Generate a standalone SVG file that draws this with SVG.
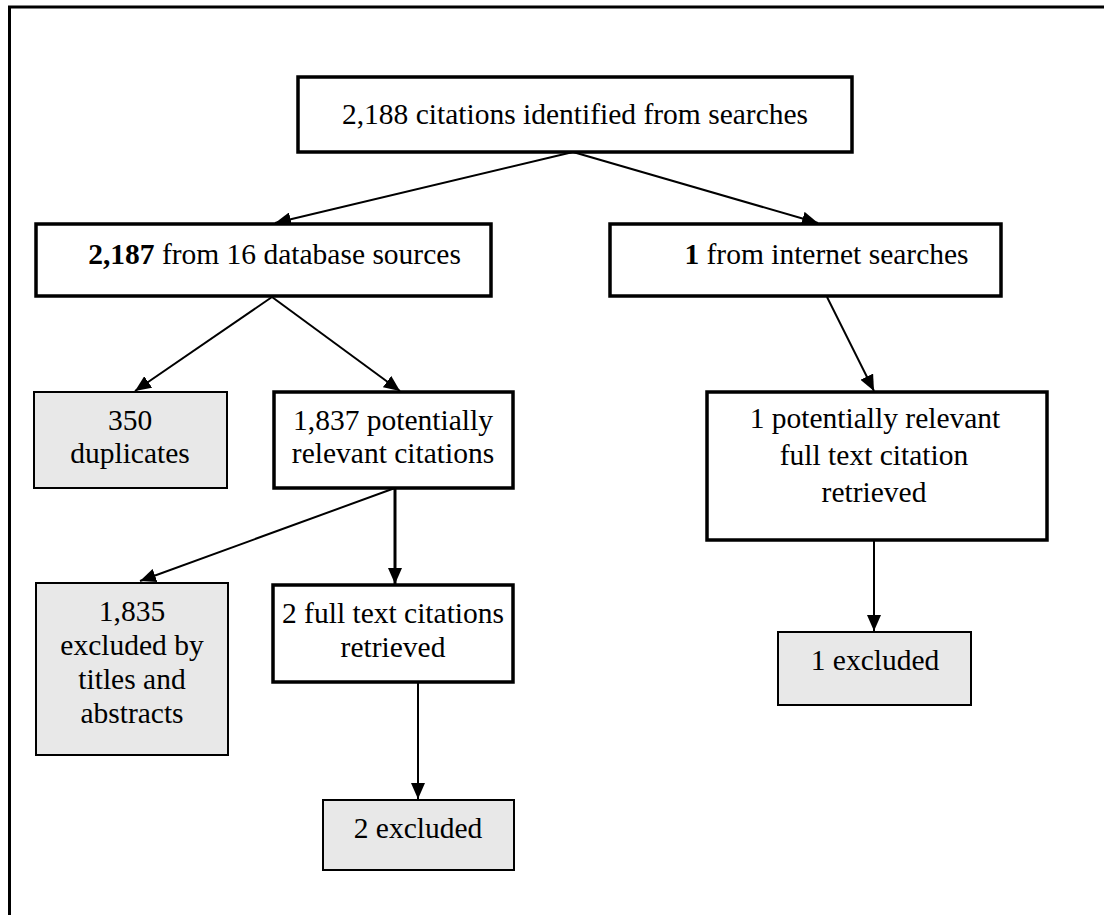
<svg xmlns="http://www.w3.org/2000/svg" width="1104" height="915" viewBox="0 0 1104 915">
<style>
  text { font-family: "Liberation Serif", "Times New Roman", Tinos, "Nimbus Roman", "DejaVu Serif", serif; font-size: 29.5px; fill: #000; text-anchor: middle; }
  .box { fill: #fff; stroke: #000; stroke-width: 3.5; }
  .gray { fill: #e8e8e8; stroke: #000; stroke-width: 2; }
  .conn { stroke: #000; stroke-width: 2; fill: none; marker-end: url(#arrow); }
  .thick { stroke-width: 3; }
  .b { font-weight: bold; }
</style>
<defs>
  <marker id="arrow" markerUnits="userSpaceOnUse" markerWidth="16" markerHeight="14" viewBox="0 0 16 14" refX="16" refY="7" orient="auto">
    <path d="M0,0 L16,7 L0,14 z" fill="#000"/>
  </marker>
</defs>
<rect width="1104" height="915" fill="#fff"/>
<path d="M9.5,915 V7 H1104" fill="none" stroke="#000" stroke-width="3"/>

<g id="connectors">
  <line class="conn" x1="573" y1="152" x2="275" y2="223"/>
  <line class="conn" x1="573" y1="152" x2="818" y2="223"/>
  <line class="conn" x1="272" y1="297" x2="135" y2="391"/>
  <line class="conn" x1="272" y1="297" x2="400" y2="391"/>
  <line class="conn" x1="827" y1="297" x2="874" y2="391"/>
  <line class="conn" x1="395" y1="488" x2="140" y2="581"/>
  <line class="conn thick" x1="395" y1="488" x2="395" y2="584"/>
  <line class="conn" x1="874" y1="540" x2="874" y2="631"/>
  <line class="conn" x1="418" y1="682" x2="418" y2="799"/>
</g>

<g id="n-top">
  <rect class="box" x="298" y="77" width="554" height="75"/>
  <text x="575" y="124">2,188 citations identified from searches</text>
</g>
<g id="n-db">
  <rect class="box" x="36" y="224" width="455" height="72"/>
  <text x="274.5" y="264"><tspan class="b">2,187</tspan> from 16 database sources</text>
</g>
<g id="n-net">
  <rect class="box" x="610" y="224" width="391" height="72"/>
  <text x="826.5" y="264"><tspan class="b">1</tspan> from internet searches</text>
</g>
<g id="n-dup">
  <rect class="gray" x="34" y="392" width="193" height="96"/>
  <text x="130" y="430">350</text>
  <text x="130" y="463">duplicates</text>
</g>
<g id="n-1837">
  <rect class="box" x="274" y="392" width="239" height="96"/>
  <text x="393" y="430">1,837 potentially</text>
  <text x="393" y="463">relevant citations</text>
</g>
<g id="n-1pot">
  <rect class="box" x="707" y="392" width="340" height="148"/>
  <text x="875" y="428">1 potentially relevant</text>
  <text x="874" y="465">full text citation</text>
  <text x="874" y="502">retrieved</text>
</g>
<g id="n-1835">
  <rect class="gray" x="36" y="583" width="192" height="172"/>
  <text x="132" y="621">1,835</text>
  <text x="132" y="655">excluded by</text>
  <text x="132" y="689">titles and</text>
  <text x="132" y="723">abstracts</text>
</g>
<g id="n-2full">
  <rect class="box" x="273" y="585" width="240" height="97"/>
  <text x="393" y="623">2 full text citations</text>
  <text x="393" y="657">retrieved</text>
</g>
<g id="n-1exc">
  <rect class="gray" x="778" y="632" width="193" height="73"/>
  <text x="875" y="670">1 excluded</text>
</g>
<g id="n-2exc">
  <rect class="gray" x="323" y="800" width="191" height="70"/>
  <text x="418" y="838">2 excluded</text>
</g>
</svg>
